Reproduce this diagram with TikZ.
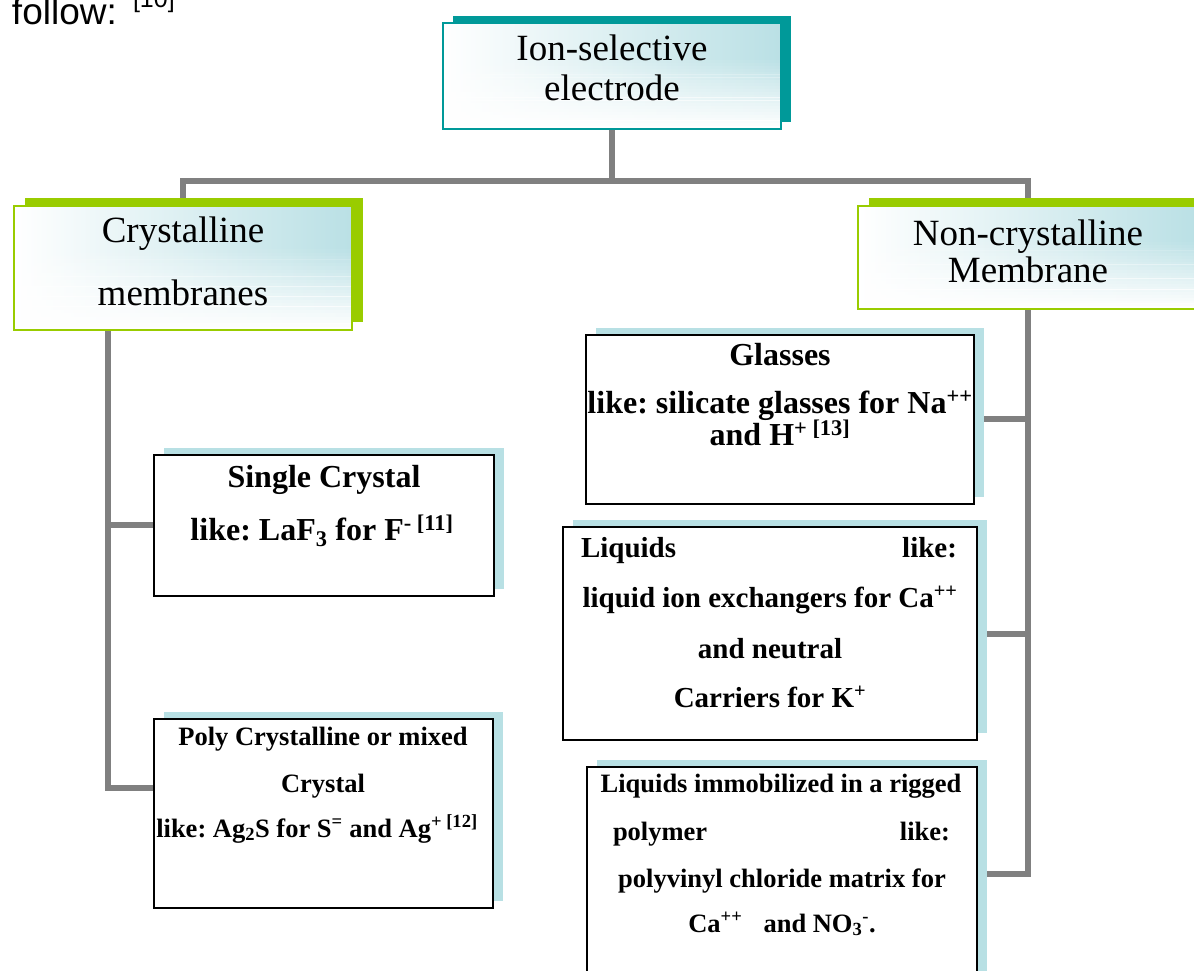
\documentclass[tikz,border=0pt]{standalone}
\usepackage{fontspec}
\setmainfont{Liberation Serif}
\newfontfamily\sansA{Liberation Sans}
\usetikzlibrary{calc}
\definecolor{tealc}{RGB}{0,153,153}
\definecolor{greenc}{RGB}{153,204,0}
\definecolor{lblue}{RGB}{184,224,228}
\definecolor{lteal}{RGB}{186,224,229}
\definecolor{linkgray}{RGB}{128,128,128}
\newcommand\fHdr{\fontsize{37}{40}\selectfont}
\newcommand\fBig{\fontsize{32}{36}\selectfont\bfseries}
\newcommand\fMid{\fontsize{29}{33}\selectfont\bfseries}
\newcommand\fSml{\fontsize{26.5}{30}\selectfont\bfseries}
\frenchspacing
\pgfdeclarelayer{bglinks}
\pgfdeclarelayer{bgshadows}
\pgfsetlayers{bglinks,bgshadows,main}
\tikzset{
  link/.style={draw=linkgray, line width=6pt},
  hdrbox/.style={draw=#1, line width=2pt, left color=white, right color=lteal,
    anchor=north west, inner sep=0pt, outer sep=0pt,
    path picture={
      \foreach \i in {0,...,23}{
        \fill[white, opacity={(\i+1)/24}]
          ($(path picture bounding box.north west)!{0.35+\i*0.65/24}!(path picture bounding box.south west)$)
          rectangle
          ($(path picture bounding box.north east)!{0.35+(\i+1)*0.65/24+0.002}!(path picture bounding box.south east)$);
      }
    }},
  wbox/.style={draw=black, line width=2.5pt, fill=white, anchor=north west, inner sep=0pt, outer sep=0pt},
  txt/.style={inner sep=0pt, outer sep=0pt, anchor=base},
}
\begin{document}
\begin{tikzpicture}[x=1pt,y=-1pt]
\useasboundingbox (0,0) rectangle (1194,970);
\clip (0,0) rectangle (1194,970);
% boxes
\node[hdrbox=tealc, minimum width=338pt, minimum height=106pt] (ise) at (443,23) {};
\node[hdrbox=greenc, minimum width=338pt, minimum height=124pt] (cry) at (14,206) {};
\node[hdrbox=greenc, minimum width=340pt, minimum height=103pt] (ncr) at (858,206) {};
\node[wbox, minimum width=340pt, minimum height=141pt] (sgl) at (154,455) {};
\node[wbox, minimum width=339pt, minimum height=189pt] (pol) at (154,719) {};
\node[wbox, minimum width=388pt, minimum height=169pt] (gla) at (586,335) {};
\node[wbox, minimum width=414pt, minimum height=213pt] (liq) at (563,527) {};
\node[wbox, minimum width=390pt, minimum height=260pt] (bot) at (587,767) {};
% shadows
\begin{pgfonlayer}{bgshadows}
\fill[tealc] ([xshift=10pt,yshift=7pt]ise.south west) rectangle ([xshift=10pt,yshift=7pt]ise.north east);
\fill[greenc] ([xshift=11pt,yshift=8pt]cry.south west) rectangle ([xshift=11pt,yshift=8pt]cry.north east);
\fill[greenc] ([xshift=11pt,yshift=8pt]ncr.south west) rectangle ([xshift=11pt,yshift=8pt]ncr.north east);
\foreach \b in {sgl,pol,gla,liq,bot}{
  \fill[lblue] ([xshift=10pt,yshift=7pt]\b.south west) rectangle ([xshift=10pt,yshift=7pt]\b.north east);
}
\end{pgfonlayer}
% connectors
\coordinate (jL) at (183,181);
\coordinate (jR) at (1028,181);
\coordinate (rG) at (1028,419);
\coordinate (rL) at (1028,634);
\coordinate (rB) at (1028,874);
\coordinate (lS) at (108,525);
\coordinate (lP) at (108,788);
\begin{pgfonlayer}{bglinks}
\draw[link] (ise.south) -- (ise.south |- jL);
\draw[link] (cry.north) -- (jL) -- (jR) -- (rB) -- (rB -| bot.east);
\draw[link] (rG) -- (rG -| gla.east);
\draw[link] (rL) -- (rL -| liq.east);
\draw[link] (cry.south -| lP) -- (lP) -- (lP -| pol.west);
\draw[link] (lS) -- (lS -| sgl.west);
\end{pgfonlayer}
% texts
\node[txt, anchor=base west, font=\sansA\fontsize{37}{40}\selectfont] (fol) at (12,24) {follow:};
\node[txt, anchor=base west, font=\sansA\fontsize{25}{28}\selectfont] (ref10) at (133,7) {[10]};
\node[txt, font=\fHdr] (t1) at (612,60) {Ion-selective};
\node[txt, font=\fHdr] (t2) at (612,100) {electrode};
\node[txt, font=\fHdr] (t3) at (183,242) {Crystalline};
\node[txt, font=\fHdr] (t4) at (183,305) {membranes};
\node[txt, font=\fHdr] (t5) at (1028,245) {Non-crystalline};
\node[txt, font=\fHdr] (t6) at (1028,282) {Membrane};
\node[txt, font=\fBig] (s1) at (324,487) {Single Crystal};
\node[txt, font=\fBig] (s2) at (322,540) {like: LaF\textsubscript{3} for F\textsuperscript{- [11]}};
\node[txt, font=\fSml] (p1) at (323,745) {Poly Crystalline or mixed};
\node[txt, font=\fSml] (p2) at (323,792) {Crystal};
\node[txt, font=\fSml] (p3) at (317,837) {like: Ag\textsubscript{2}S for S\textsuperscript{=} and Ag\textsuperscript{+ [12]}};
\node[txt, font=\fBig] (g1) at (780,365) {Glasses};
\node[txt, font=\fBig] (g2) at (780,413) {like: silicate glasses for Na\textsuperscript{++}};
\node[txt, font=\fBig] (g3) at (780,445) {and H\textsuperscript{+ [13]}};
\node[txt, anchor=base west, font=\fMid] (l1a) at (581,557) {Liquids};
\node[txt, anchor=base east, font=\fMid] (l1b) at (957,557) {like:};
\node[txt, font=\fMid] (l2) at (770,607) {liquid ion exchangers for Ca\textsuperscript{++}};
\node[txt, font=\fMid] (l3) at (770,658) {and neutral};
\node[txt, font=\fMid] (l4) at (770,707) {Carriers for K\textsuperscript{+}};
\node[txt, font=\fSml] (b1) at (781,792) {Liquids immobilized in a rigged};
\node[txt, anchor=base west, font=\fSml] (b2a) at (613,840) {polymer};
\node[txt, anchor=base east, font=\fSml] (b2b) at (950,840) {like:};
\node[txt, font=\fSml] (b3) at (782,887) {polyvinyl chloride matrix for};
\node[txt, font=\fSml] (b4) at (782,932) {Ca\textsuperscript{++}\hspace{0.55em} and NO\textsubscript{3}\textsuperscript{-}.};
\end{tikzpicture}
\end{document}
